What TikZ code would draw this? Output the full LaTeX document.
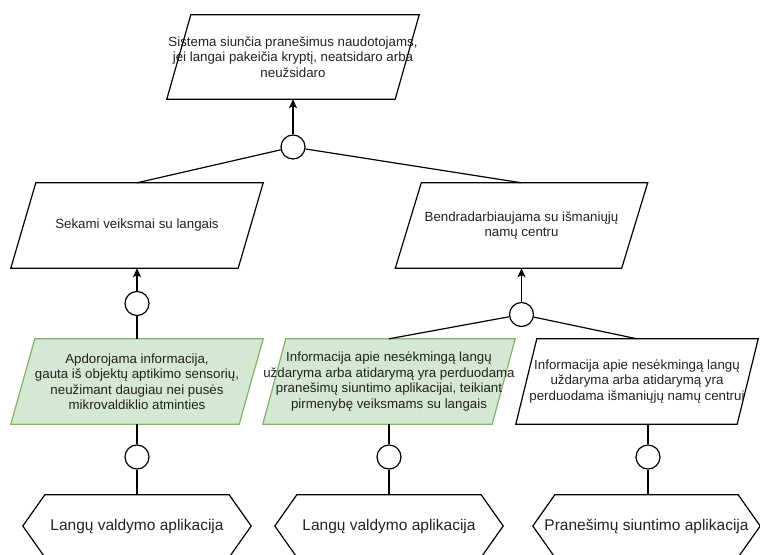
\documentclass[tikz,border=0pt]{standalone}
\usepackage{fontspec}
\setmainfont{Liberation Sans}
\usetikzlibrary{arrows.meta,backgrounds}
\definecolor{gfill}{HTML}{D5E8D4}
\definecolor{gline}{HTML}{82B366}
\definecolor{txt}{HTML}{222222}
\begin{document}
\begin{tikzpicture}[x=1pt,y=-1pt,
  box/.style={minimum width=252pt, minimum height=85pt, inner sep=0pt, align=center, text=txt, font=\fontsize{13.3}{15.5}\selectfont},
  hexbox/.style={minimum width=228pt, minimum height=62pt, inner sep=0pt, text=txt, font=\fontsize{15.5}{18}\selectfont},
  junc/.style={circle, draw, line width=1.2pt, fill=white, minimum size=24pt, inner sep=0pt},
  link/.style={draw, line width=1.2pt},
  arr/.style={link, -{Stealth[length=9pt,width=8pt,inset=2pt]}}
]
\begin{scope}[on background layer]
\fill[white] (0,0) rectangle (760,554);
\end{scope}
\useasboundingbox (0,0) rectangle (760,554);

\node[box, minimum height=84pt] (top) at (293,57) {Sistema siunčia pranešimus naudotojams,\\jei langai pakeičia kryptį, neatsidaro arba\\neužsidaro};
\node[box] (sek) at (137,225.5) {Sekami veiksmai su langais};
\node[box] (ben) at (521.5,225.5) {Bendradarbiaujama su išmaniųjų\\namų centru};
\node[box] (g1) at (137,381.5) {Apdorojama informacija,\\gauta iš objektų aptikimo sensorių,\\neužimant daugiau nei pusės\\mikrovaldiklio atminties};
\node[box] (g2) at (389,381.5) {Informacija apie nesėkmingą langų\\uždaryma arba atidarymą yra perduodama\\pranešimų siuntimo aplikacijai, teikiant\\pirmenybę veiksmams su langais};
\node[box, minimum width=242pt] (w3) at (637,381.5) {Informacija apie nesėkmingą langų\\uždaryma arba atidarymą yra\\perduodama išmaniųjų namų centrui};

\node[hexbox] (h1) at (137,526) {Langų valdymo aplikacija};
\node[hexbox] (h2) at (389,526) {Langų valdymo aplikacija};
\node[hexbox, minimum width=227pt] (h3) at (646.5,526) {Pranešimų siuntimo aplikacija};

\node[junc] (c0) at (293,147) {};
\node[junc] (c1) at (137,303.5) {};
\node[junc] (c2) at (521.5,314.5) {};
\node[junc] (c3) at (137,457) {};
\node[junc] (c4) at (389,457) {};
\node[junc] (c5) at (648,457) {};

\begin{scope}[on background layer]
\foreach \n/\f/\d/\s in {top/white/black/24, sek/white/black/25, ben/white/black/26, g1/gfill/gline/24, g2/gfill/gline/23, w3/white/black/21}
  \filldraw[fill=\f, draw=\d, line width=1.2pt] ([xshift=\s pt]\n.north west) -- (\n.north east) -- ([xshift=-\s pt]\n.south east) -- (\n.south west) -- cycle;
\foreach \n in {h1,h2,h3}
  \filldraw[fill=white, draw=black, line width=1.2pt] (\n.west) -- ([xshift=22pt]\n.north west) -- ([xshift=-22pt]\n.north east) -- (\n.east) -- ([xshift=-22pt]\n.south east) -- ([xshift=22pt]\n.south west) -- cycle;
\end{scope}

\draw[arr] (c0) -- (top.south);
\draw[link] (c0) -- (sek.north);
\draw[link] (c0) -- (ben.north);
\draw[arr] (c1) -- (sek.south);
\draw[link] (g1.north) -- (c1);
\draw[arr] (c2) -- (ben.south);
\draw[link] (c2) -- (g2.north);
\draw[link] (c2) -- (w3.north);
\draw[link] (g1.south) -- (c3);
\draw[link] (c3) -- (h1.north);
\draw[link] (g2.south) -- (c4);
\draw[link] (c4) -- (h2.north);
\draw[link] (c5 |- w3.south) -- (c5);
\draw[link] (c5) -- (c5 |- h3.north);
\end{tikzpicture}
\end{document}
